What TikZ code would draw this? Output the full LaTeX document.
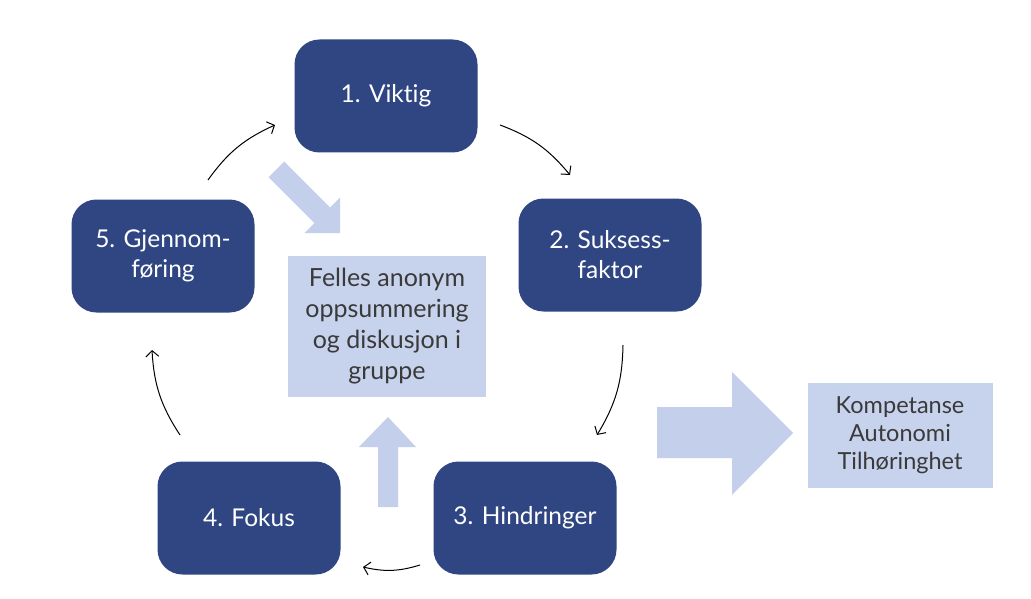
\documentclass[tikz,border=0pt]{standalone}
\usepackage{fontspec}
\setmainfont{Lato}[Ligatures=NoCommon]
\usetikzlibrary{arrows.meta}
\definecolor{darkbox}{HTML}{2F4682}
\definecolor{lightbox}{HTML}{C7D2EC}
\definecolor{lightarrow}{HTML}{C4CFEB}
\definecolor{softtext}{HTML}{3A3A3A}
\tikzset{
  stepbox/.style={fill=darkbox, rounded corners=25pt, minimum width=183pt, minimum height=113pt,
    text=white, align=center, inner sep=0pt, font=\fontsize{24.5}{30}\selectfont},
  infobox/.style={fill=lightbox, align=center, inner sep=0pt, text=softtext},
  cyc/.style={draw=black, line width=1pt, -{Straight Barb[length=6pt,width=13pt]}, bend left=15},
  fatarrow/.style={fill=lightarrow, draw=none}
}
\begin{document}
\begin{tikzpicture}[x=1pt,y=-1pt]
\useasboundingbox (0,0) rectangle (1031,599);
\fill[white] (0,0) rectangle (1031,599);

\node[stepbox] (n1) at (386,96) {1. Viktig};
\node[stepbox] (n2) at (610,255) {2. Suksess-\\faktor};
\node[stepbox] (n3) at (525,518) {3. Hindringer};
\node[stepbox] (n4) at (249,518) {4. Fokus};
\node[stepbox] (n5) at (163,256) {5. Gjennom-\\føring};

\node[infobox, minimum width=198pt, minimum height=141pt, font=\fontsize{25}{31}\selectfont] (c) at (387,326)
  {Felles anonym\\oppsummering\\og diskusjon i\\gruppe};
\node[infobox, minimum width=185pt, minimum height=105pt, font=\fontsize{23.5}{28}\selectfont] (r) at (900,435)
  {Kompetanse\\Autonomi\\Tilhøringhet};

% big arrows
\fill[fatarrow] (657,407) -- (732,407) -- (732,372) -- (793,433) -- (732,495) -- (732,458) -- (657,458) -- cycle;
\fill[fatarrow] (378,507) -- (378,447) -- (359,447) -- (388,417) -- (416,447) -- (398,447) -- (398,507) -- cycle;
\fill[fatarrow] (268.6,177.2) -- (284.2,161.6) -- (330.1,207.5) -- (340,197.6) -- (340,233) -- (304.6,233) -- (314.5,223.1) -- cycle;

% cycle arrows
\coordinate (a5) at (208,180); \coordinate (b1) at (275,125);
\coordinate (a1) at (500,125); \coordinate (b2) at (570,175);
\coordinate (a2) at (623,345); \coordinate (b3) at (597,435);
\coordinate (a3) at (420,565); \coordinate (b4) at (363,567);
\coordinate (a4) at (180,435); \coordinate (b5) at (152,350);
\draw[cyc] (a5) to (b1);
\draw[cyc] (a1) to (b2);
\draw[cyc] (a2) to (b3);
\draw[cyc] (a3) to (b4);
\draw[cyc] (a4) to (b5);
\end{tikzpicture}
\end{document}
